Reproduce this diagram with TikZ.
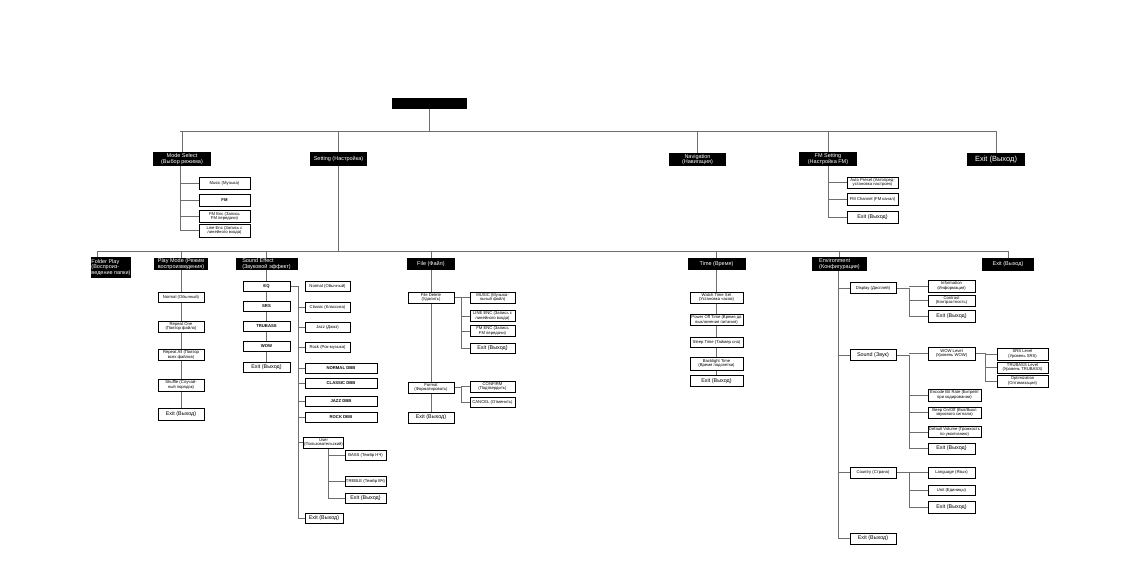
\documentclass[tikz,border=0pt]{standalone}
\usepackage{fontspec}
\setmainfont{Liberation Sans}
\usetikzlibrary{positioning,backgrounds}
\definecolor{ink}{HTML}{000000}
\definecolor{wirec}{HTML}{6E6E6E}
\newcommand{\hfnt}{\fontsize{5.5}{5.6}\selectfont}
\newcommand{\ifnt}{\fontsize{4.2}{4.4}\selectfont}
\newcommand{\xfnt}{\fontsize{5.4}{5.6}\selectfont}
\tikzset{
  hdr/.style={fill=ink,text=white,align=center,font=\hfnt,inner sep=0.5pt},
  item/.style={draw=ink,line width=0.9pt,fill=white,align=center,font=\ifnt,inner sep=0.5pt},
  bitem/.style={item,font=\ifnt\bfseries},
  xitem/.style={item,font=\xfnt},
  wire/.style={draw=wirec,line width=0.8pt}
}
\begin{document}
\begin{tikzpicture}[x=1pt,y=-1pt]
  \useasboundingbox (0,0) rectangle (1147,573);
  % top level
  \node[hdr,minimum width=75pt,minimum height=11pt] (title) at (429.5,103.5) {};
  \node[hdr,minimum width=58pt,minimum height=14pt] (modesel) at (182,159) {Mode Select\\(Выбор режима)};
  \node[hdr,minimum width=57pt,minimum height=14pt] (setting) at (338.5,159) {Setting (Настройка)};
  \node[hdr,minimum width=57pt,minimum height=13pt] (nav) at (697.5,159.5) {Navigation\\(Навигация)};
  \node[hdr,minimum width=58pt,minimum height=14pt] (fmset) at (828,159) {FM Setting\\(Настройка FM)};
  \node[hdr,minimum width=58pt,minimum height=13pt,font=\fontsize{7.5}{8}\selectfont] (topexit) at (996,159.5) {Exit (Выход)};
  % mode select
  \node[item,minimum width=51pt,minimum height=12pt] (music) at (224.5,183) {Music (Музыка)};
  \node[bitem,minimum width=51pt,minimum height=12pt] (fm) at (224.5,200) {FM};
  \node[item,minimum width=51pt,minimum height=11.5pt] (fmenc) at (224.5,216.5) {FM Enc (Запись\\FM передачи)};
  \node[item,minimum width=51pt,minimum height=13pt] (lineenc) at (224.5,230.5) {Line Enc (Запись с\\линейного входа)};
  % fm setting
  \node[item,minimum width=51pt,minimum height=11pt] (autop) at (872.5,182.5) {Auto Preset (Автопред-\\установка настроек)};
  \node[item,minimum width=51pt,minimum height=12pt] (fmch) at (872.5,199) {FM Channel (FM канал)};
  \node[xitem,minimum width=51pt,minimum height=12pt] (fsexit) at (872.5,217) {Exit (Выход)};
  % second level
  \node[hdr,minimum width=40pt,minimum height=21pt,align=left] (folder) at (111,267.5) {Folder Play\\(Воспроиз-\\ведение папки)};
  \node[hdr,minimum width=54pt,minimum height=12pt] (playmode) at (181,264) {Play Mode (Режим\\воспроизведения)};
  \node[hdr,minimum width=62pt,minimum height=12pt,align=left] (sndfx) at (266.5,264) {Sound Effect\\(Звуковой эффект)};
  \node[hdr,minimum width=48pt,minimum height=12pt] (file) at (431,264) {File (Файл)};
  \node[hdr,minimum width=58pt,minimum height=12pt] (time) at (716.5,264) {Time (Время)};
  \node[hdr,minimum width=55pt,minimum height=14pt,align=left] (env) at (839.5,264) {Environment\\(Конфигурация)};
  \node[hdr,minimum width=52pt,minimum height=13pt] (exitb) at (1008,264.5) {Exit (Выход)};
  % play mode
  \node[item,minimum width=46pt,minimum height=10pt] (pm1) at (181,297.5) {Normal (Обычный)};
  \node[item,minimum width=46pt,minimum height=11pt] (pm2) at (181,326.5) {Repeat One\\(Повтор файла)};
  \node[item,minimum width=46pt,minimum height=10.5pt] (pm3) at (181,355) {Repeat All (Повтор\\всех файлов)};
  \node[item,minimum width=46pt,minimum height=12pt] (pm4) at (181,385) {Shuffle (Случай-\\ный порядок)};
  \node[xitem,minimum width=46pt,minimum height=12pt] (pm5) at (181,414) {Exit (Выход)};
  % sound effect
  \node[bitem,minimum width=47pt,minimum height=10pt] (eq) at (266.5,286) {EQ};
  \node[bitem,minimum width=47pt,minimum height=10pt] (srs) at (266.5,306) {SRS};
  \node[bitem,minimum width=47pt,minimum height=10pt] (trub) at (266.5,326) {TRUBASS};
  \node[bitem,minimum width=47pt,minimum height=10pt] (wow) at (266.5,346.5) {WOW};
  \node[xitem,minimum width=47pt,minimum height=10pt] (seexit) at (266.5,367) {Exit (Выход)};
  \node[item,minimum width=45pt,minimum height=10pt] (en1) at (327.5,286) {Normal (Обычный)};
  \node[item,minimum width=45pt,minimum height=10pt] (en2) at (327.5,307) {Classic (Классика)};
  \node[item,minimum width=45pt,minimum height=10pt] (en3) at (327.5,327) {Jazz (Джаз)};
  \node[item,minimum width=45pt,minimum height=10pt] (en4) at (327.5,347) {Rock (Рок-музыка)};
  \node[bitem,minimum width=72pt,minimum height=10pt] (d1) at (341,368) {NORMAL DBB};
  \node[bitem,minimum width=72pt,minimum height=10pt] (d2) at (341,383) {CLASSIC DBB};
  \node[bitem,minimum width=72pt,minimum height=10pt] (d3) at (341,401.5) {JAZZ DBB};
  \node[bitem,minimum width=72pt,minimum height=10pt] (d4) at (341,417) {ROCK DBB};
  \node[item,minimum width=37pt,minimum height=11pt] (user) at (323.5,442.5) {User\\(Пользовательский)};
  \node[item,minimum width=41pt,minimum height=10pt] (bass) at (365.5,455) {BASS (Тембр НЧ)};
  \node[item,minimum width=41pt,minimum height=10pt] (treble) at (365.5,481.5) {TREBLE (Тембр ВЧ)};
  \node[xitem,minimum width=41pt,minimum height=10pt] (uexit) at (365.5,498) {Exit (Выход)};
  \node[xitem,minimum width=38pt,minimum height=10pt] (eqexit) at (324,518) {Exit (Выход)};
  % file
  \node[item,minimum width=46pt,minimum height=11pt] (fdel) at (431,297.5) {File Delete\\(Удалить)};
  \node[item,minimum width=46pt,minimum height=11pt] (format) at (431,387.5) {Format\\(Форматировать)};
  \node[xitem,minimum width=46pt,minimum height=11pt] (fexit) at (431,417.5) {Exit (Выход)};
  \node[item,minimum width=45pt,minimum height=11pt] (music2) at (492.5,297.5) {MUSIC (Музыка-\\льный файл)};
  \node[item,minimum width=45pt,minimum height=11pt] (linenc2) at (492.5,316) {LINE ENC (Запись с\\линейного входа)};
  \node[item,minimum width=45pt,minimum height=11pt] (fmenc2) at (492.5,331) {FM ENC (Запись\\FM передачи)};
  \node[xitem,minimum width=45pt,minimum height=10pt] (fdexit) at (492.5,348) {Exit (Выход)};
  \node[item,minimum width=45pt,minimum height=11pt] (confirm) at (492.5,386.5) {CONFIRM\\(Подтвердить)};
  \node[item,minimum width=45pt,minimum height=10pt] (cancel) at (492.5,402.5) {CANCEL (Отменить)};
  % time
  \node[item,minimum width=53pt,minimum height=11pt] (t1) at (716.5,297.5) {Watch Time Set\\(Установка часов)};
  \node[item,minimum width=53pt,minimum height=11pt] (t2) at (716.5,320) {Power Off Time (Время до\\выключения питания)};
  \node[item,minimum width=53pt,minimum height=10pt] (t3) at (716.5,342) {Sleep Time (Таймер сна)};
  \node[item,minimum width=53pt,minimum height=13pt] (t4) at (716.5,363.5) {Backlight Time\\(Время подсветки)};
  \node[xitem,minimum width=53pt,minimum height=11pt] (t5) at (716.5,381) {Exit (Выход)};
  % environment
  \node[item,minimum width=46pt,minimum height=11pt] (display) at (873,288) {Display (Дисплей)};
  \node[item,minimum width=46pt,minimum height=11pt,font=\xfnt] (sound) at (873,355) {Sound (Звук)};
  \node[item,minimum width=46pt,minimum height=11pt] (country) at (873,472.5) {Country (Страна)};
  \node[xitem,minimum width=46pt,minimum height=11pt] (eexit) at (873,538.5) {Exit (Выход)};
  \node[item,minimum width=47pt,minimum height=12pt] (info) at (951.5,286) {Information\\(Информация)};
  \node[item,minimum width=47pt,minimum height=11pt] (contr) at (951.5,300.5) {Contrast\\(Контрастность)};
  \node[xitem,minimum width=47pt,minimum height=12pt] (dexit) at (951.5,316) {Exit (Выход)};
  \node[item,minimum width=47pt,minimum height=13pt] (wowl) at (951.5,353.5) {WOW Level\\(Уровень WOW)};
  \node[item,minimum width=53pt,minimum height=12pt] (enc) at (954.5,395) {Encode Bit Rate (Битрейт\\при кодировании)};
  \node[item,minimum width=53pt,minimum height=11pt] (beep) at (954.5,412.5) {Beep On/Off (Вкл/Выкл\\звукового сигнала)};
  \node[item,minimum width=53pt,minimum height=11pt] (defv) at (954.5,432) {Default Volume (Громкость\\по умолчанию)};
  \node[xitem,minimum width=47pt,minimum height=11pt] (sexit) at (951.5,448.5) {Exit (Выход)};
  \node[item,minimum width=51pt,minimum height=12pt] (srsl) at (1022.5,354) {SRS Level\\(Уровень SRS)};
  \node[item,minimum width=51pt,minimum height=11pt] (trubl) at (1022.5,367.5) {TRUBASS Level\\(Уровень TRUBASS)};
  \node[item,minimum width=51pt,minimum height=12pt] (optim) at (1022.5,381) {Optimization\\(Оптимизация)};
  \node[item,minimum width=47pt,minimum height=11pt] (lang) at (951.5,472.5) {Language (Язык)};
  \node[item,minimum width=47pt,minimum height=10pt] (unit) at (951.5,490) {Unit (Единицы)};
  \node[xitem,minimum width=47pt,minimum height=12pt] (cexit) at (951.5,507) {Exit (Выход)};
  % connectors
  \begin{scope}[on background layer]
    \coordinate (b1l) at (180,131);
    \coordinate (b1r) at (996,131);
    \draw[wire] (b1l) -- (b1r);
    \draw[wire] (title.south) -- (title.south |- b1l);
    \foreach \n in {modesel,setting,nav,fmset,topexit} \draw[wire] (\n.north) -- (\n.north |- b1l);
    \coordinate (b2l) at (97,251);
    \coordinate (b2r) at (1008,251);
    \draw[wire] (b2l) -- (b2r);
    \draw[wire] (setting.south) -- (setting.south |- b2l);
    \draw[wire] (b2l) -- (b2l |- folder.north);
    \foreach \n in {playmode,sndfx,file,time,env,exitb} \draw[wire] (\n.north) -- (\n.north |- b2l);
    \coordinate (msv) at (180,166);
    \draw[wire] (msv) |- (lineenc.west);
    \foreach \n in {music,fm,fmenc} \draw[wire] (msv |- \n.west) -- (\n.west);
    \coordinate (fsv) at (828,166);
    \draw[wire] (fsv) |- (fsexit.west);
    \foreach \n in {autop,fmch} \draw[wire] (fsv |- \n.west) -- (\n.west);
    \draw[wire] (playmode) -- (pm5);
    \draw[wire] (sndfx) -- (seexit);
    \draw[wire] (file) -- (fexit);
    \draw[wire] (time) -- (t5);
    \coordinate (eqv) at (298,286);
    \draw[wire] (eq.east) -- (eqv) |- (eqexit.west);
    \foreach \n in {en2,en3,en4,d1,d2,d3,d4,user} \draw[wire] (eqv |- \n.west) -- (\n.west);
    \coordinate (usv) at (328,448);
    \draw[wire] (usv) |- (uexit.west);
    \foreach \n in {bass,treble} \draw[wire] (usv |- \n.west) -- (\n.west);
    \coordinate (fdv) at (461,297.5);
    \draw[wire] (fdel.east) -- (fdv) |- (fdexit.west);
    \foreach \n in {music2,linenc2,fmenc2} \draw[wire] (fdv |- \n.west) -- (\n.west);
    \coordinate (fmv) at (461,387.5);
    \draw[wire] (format.east) -- (fmv) |- (cancel.west);
    \draw[wire] (fmv |- confirm.west) -- (confirm.west);
    \coordinate (ev) at (838,271);
    \draw[wire] (ev) |- (eexit.west);
    \foreach \n in {display,sound,country} \draw[wire] (ev |- \n.west) -- (\n.west);
    \coordinate (dv) at (909,288);
    \draw[wire] (display.east) -- (dv) |- (dexit.west);
    \foreach \n in {info,contr} \draw[wire] (dv |- \n.west) -- (\n.west);
    \coordinate (sv) at (909,355);
    \draw[wire] (sound.east) -- (sv) |- (sexit.west);
    \foreach \n in {wowl,enc,beep,defv} \draw[wire] (sv |- \n.west) -- (\n.west);
    \coordinate (wv) at (985,353.5);
    \draw[wire] (wowl.east) -- (wv) |- (optim.west);
    \foreach \n in {srsl,trubl} \draw[wire] (wv |- \n.west) -- (\n.west);
    \coordinate (cv) at (909,472.5);
    \draw[wire] (country.east) -- (cv) |- (cexit.west);
    \foreach \n in {lang,unit} \draw[wire] (cv |- \n.west) -- (\n.west);
  \end{scope}
\end{tikzpicture}
\end{document}
